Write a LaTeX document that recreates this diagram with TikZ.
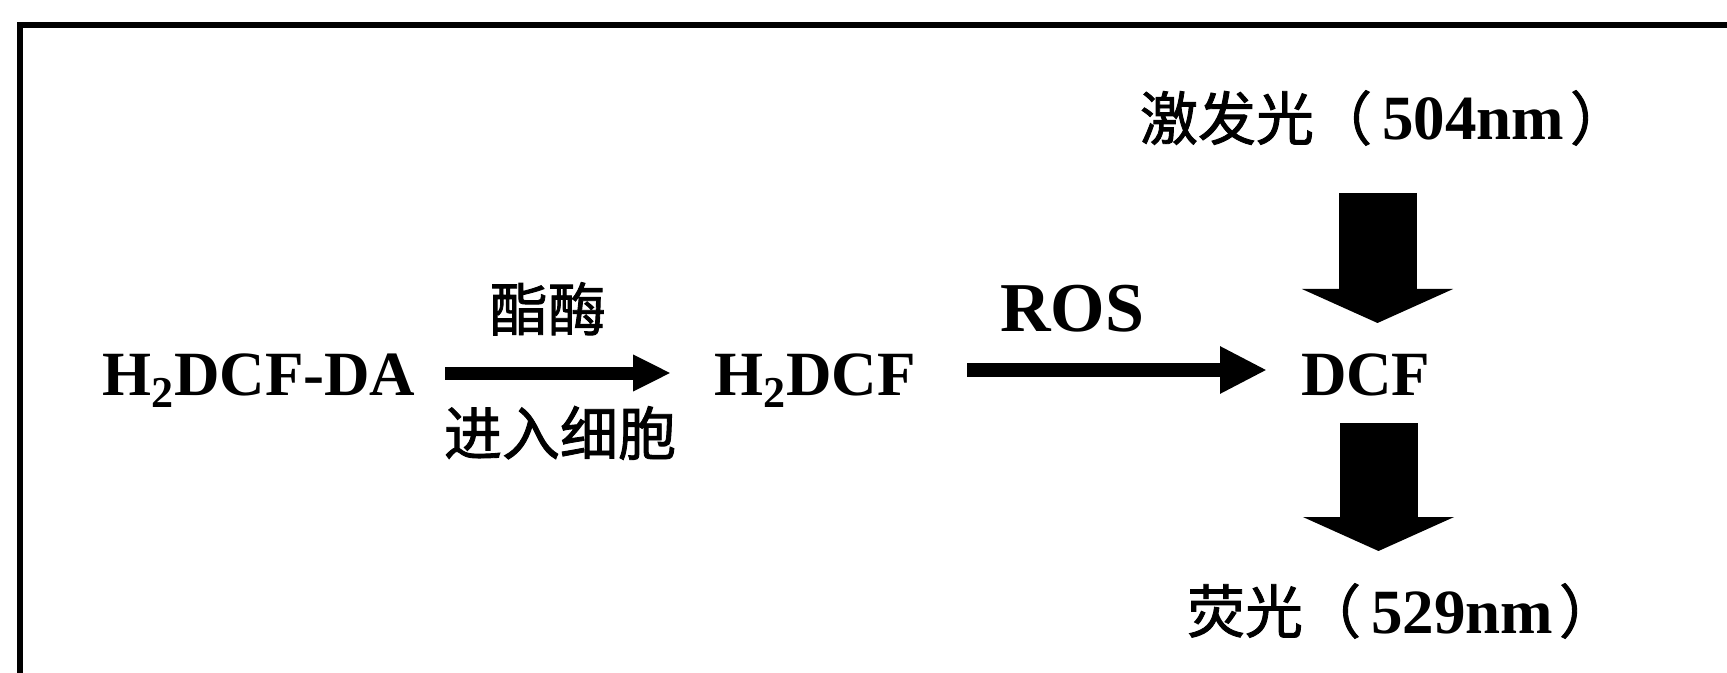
\documentclass[tikz,border=0pt]{standalone}
\usepackage{fontspec}
\setmainfont{Liberation Serif}
\newfontfamily\cjk{Noto Sans CJK SC}[FakeBold=1.5]
\usetikzlibrary{arrows.meta}
\tikzset{
  lbl/.style={inner sep=0pt, outer sep=0pt, font=\fontsize{31.5}{36}\selectfont\bfseries},
  roslbl/.style={inner sep=0pt, outer sep=0pt, font=\fontsize{35}{40}\selectfont\bfseries},
  cnlbl/.style={inner sep=0pt, outer sep=0pt, font=\fontsize{29}{34}\selectfont\cjk},
  wavelbl/.style={inner sep=0pt, outer sep=0pt, font=\fontsize{31.5}{36}\selectfont\bfseries},
  thinarrow/.style={line width=6.5pt, -{Triangle[width=17pt,length=19pt]}},
  thinarrowb/.style={line width=7pt, -{Triangle[width=22pt,length=23.5pt]}},
  bigarrow/.style={line width=39pt, -{Triangle[width=75pt,length=17pt]}},
  frameline/.style={line width=2.8pt, line cap=rect}
}
\newcommand{\cnw}[1]{{\cjk\mdseries\fontsize{29}{34}\selectfont #1}}
\begin{document}
\begin{tikzpicture}[x=0.5pt,y=-0.5pt]
\useasboundingbox (0,0) rectangle (1727,673);
% frame
\coordinate (fb) at (20,673);
\coordinate (fc) at (20,25);
\coordinate (fr) at (1727,25);
\draw[frameline] (fb) -- (fc) -- (fr);
% main line labels
\node[lbl, anchor=base west] (h2dcfda) at (102,395) {H\textsubscript{2}DCF-DA};
\node[lbl, anchor=base west] (h2dcf) at (714,395) {H\textsubscript{2}DCF};
\node[lbl, anchor=base west] (dcf) at (1301,395) {DCF};
\node[cnlbl, anchor=base] (ester) at (548,331) {酯酶};
\node[cnlbl, anchor=base] (enter) at (560,455) {进入细胞};
\node[roslbl, anchor=base] (ros) at (1072,332) {ROS};
\node[wavelbl, anchor=base west] (excit) at (1140,140) {\cnw{激发光（}\hspace{5pt}504nm\hspace{3pt}\cnw{）}};
\node[wavelbl, anchor=base west] (fluo) at (1187,633) {\cnw{荧光（}\hspace{5pt}529nm\hspace{3pt}\cnw{）}};
% arrow coordinates
\coordinate (a1s) at (445,373);
\coordinate (a1e) at (671,373);
\coordinate (a2s) at (967,370);
\coordinate (a2e) at (1267,370);
\coordinate (b1s) at (1377.5,193);
\coordinate (b1e) at (1377.5,323);
\coordinate (b2s) at (1378.5,423);
\coordinate (b2e) at (1378.5,551);
\draw[thinarrow] (a1s) -- (a1e);
\draw[thinarrowb] (a2s) -- (a2e);
\draw[bigarrow] (b1s) -- (b1e);
\draw[bigarrow] (b2s) -- (b2e);
\end{tikzpicture}
\end{document}
